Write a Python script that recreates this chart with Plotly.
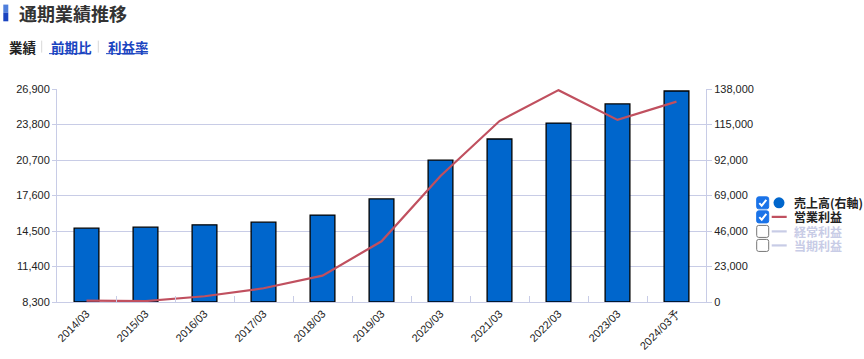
import plotly.graph_objects as go

# ---------------- data ----------------
years = ["2014/03", "2015/03", "2016/03", "2017/03", "2018/03", "2019/03",
         "2020/03", "2021/03", "2022/03", "2023/03", "2024/03予"]
sales = [47800, 48500, 50000, 51700, 56300, 66800, 91900, 105600, 115900, 128300, 136700]
op_profit = [8420, 8380, 8800, 9500, 10600, 13600, 19300, 24100, 26800, 24200, 25800]

left_ticks = [8300, 11400, 14500, 17600, 20700, 23800, 26900]
right_ticks = [0, 23000, 46000, 69000, 92000, 115000, 138000]

legend_labels = ["売上高(右軸)", "営業利益", "経常利益", "当期利益"]
legend_checked = [True, True, False, False]

title_text = "通期業績推移"
tab_labels = ["業績", "前期比", "利益率"]

# ---------------- style ----------------
W, H = 864, 359
L, R, T, B = 57, 706, 89.3, 302
BAR_C = "#0066cc"
LINE_C = "#c0505f"
GRID_C = "#c8cce6"
TXT_C = "#222222"
LINK_C = "#1a44c0"
OFF_C = "#c8cce6"
CJK = "Noto Sans CJK JP"
NUM = "Liberation Sans, Arial, sans-serif"


def px(x):
    return (x - L) / (R - L)


def py(y):
    return (B - y) / (B - T)


fig = go.Figure()
fig.add_trace(go.Bar(
    x=years, y=sales, yaxis="y", width=0.42,
    marker=dict(color=BAR_C, line=dict(color="#000000", width=1.3)),
    showlegend=False, hoverinfo="x+y"))
fig.add_trace(go.Scatter(
    x=years, y=op_profit, yaxis="y2", mode="lines",
    line=dict(color=LINE_C, width=2.2), showlegend=False))

shapes = []
annotations = []

# title accent bar
shapes.append(dict(type="rect", xref="paper", yref="paper",
                   x0=px(3.3), x1=px(8.3), y0=py(13), y1=py(5),
                   fillcolor="#4f7fdc", line=dict(width=0)))
shapes.append(dict(type="rect", xref="paper", yref="paper",
                   x0=px(3.3), x1=px(8.3), y0=py(21.7), y1=py(13),
                   fillcolor="#1a44c0", line=dict(width=0)))
annotations.append(dict(text="<b>" + title_text + "</b>", xref="paper", yref="paper",
                        x=px(17), y=py(13.5), xanchor="left", yanchor="middle",
                        showarrow=False, font=dict(family=CJK, size=18, color="#333333")))

# tabs
tab_x = [6.5, 49, 106]
for i, (lab, tx) in enumerate(zip(tab_labels, tab_x)):
    color = TXT_C if i == 0 else LINK_C
    annotations.append(dict(text="<b>" + lab + "</b>", xref="paper", yref="paper",
                            x=px(tx), y=py(47), xanchor="left", yanchor="middle",
                            showarrow=False, font=dict(family=CJK, size=13.5, color=color)))
    if i > 0:
        shapes.append(dict(type="line", xref="paper", yref="paper",
                           x0=px(tx), x1=px(tx + 14 * len(lab)), y0=py(54), y1=py(54),
                           line=dict(color=LINK_C, width=1)))
for sx in [41.7, 98.3]:
    shapes.append(dict(type="line", xref="paper", yref="paper",
                       x0=px(sx), x1=px(sx), y0=py(41), y1=py(53),
                       line=dict(color="#d8d8d8", width=1)))

# custom legend with checkboxes
row_y = [203, 217, 231.5, 245.5]
cb_x0, cb_x1 = 756.7, 768.7


def rounded_rect(x0, y0, x1, y1, r):
    rx = r / (R - L)
    ry = r / (B - T)
    X0, X1 = px(x0), px(x1)
    Y0, Y1 = py(y1), py(y0)  # bottom, top in paper
    return (f"M {X0+rx},{Y0} L {X1-rx},{Y0} Q {X1},{Y0} {X1},{Y0+ry} "
            f"L {X1},{Y1-ry} Q {X1},{Y1} {X1-rx},{Y1} L {X0+rx},{Y1} "
            f"Q {X0},{Y1} {X0},{Y1-ry} L {X0},{Y0+ry} Q {X0},{Y0} {X0+rx},{Y0} Z")


for i, (lab, chk, ry) in enumerate(zip(legend_labels, legend_checked, row_y)):
    y0, y1 = ry - 6, ry + 6
    if chk:
        shapes.append(dict(type="path", xref="paper", yref="paper",
                           path=rounded_rect(cb_x0, y0, cb_x1, y1, 2),
                           fillcolor="#1a73e8", line=dict(color="#1a73e8", width=1)))
        shapes.append(dict(type="path", xref="paper", yref="paper",
                           path=(f"M {px(cb_x0+2.6)},{py(ry+0.3)} L {px(cb_x0+5)},{py(ry+2.8)} "
                                 f"L {px(cb_x0+9.6)},{py(ry-3)}"),
                           line=dict(color="#ffffff", width=2)))
    else:
        shapes.append(dict(type="path", xref="paper", yref="paper",
                           path=rounded_rect(cb_x0, y0, cb_x1, y1, 2),
                           fillcolor="#ffffff", line=dict(color="#777777", width=1)))
    if i == 0:
        shapes.append(dict(type="circle", xref="paper", yref="paper",
                           x0=px(779 - 5.5), x1=px(779 + 5.5), y0=py(ry + 5.5), y1=py(ry - 5.5),
                           fillcolor=BAR_C, line=dict(width=0)))
    else:
        shapes.append(dict(type="line", xref="paper", yref="paper",
                           x0=px(771.7), x1=px(786.7), y0=py(ry), y1=py(ry),
                           line=dict(color=LINE_C if chk else OFF_C, width=2.2)))
    annotations.append(dict(text="<b>" + lab + "</b>", xref="paper", yref="paper",
                            x=px(792), y=py(ry), xanchor="left", yanchor="middle",
                            showarrow=False,
                            font=dict(family=CJK, size=12, color=TXT_C if chk else OFF_C)))

fig.update_layout(
    template="none",
    width=W, height=H, autosize=False,
    margin=dict(l=L, r=W - R, t=T, b=H - B, pad=0),
    paper_bgcolor="white", plot_bgcolor="white",
    font=dict(family=NUM, size=11, color=TXT_C),
    bargap=0.58,
    xaxis=dict(type="category", range=[-0.5, len(years) - 0.5], automargin=False,
               showgrid=False, showline=True, linecolor=GRID_C, linewidth=1,
               ticks="inside", tickson="boundaries", ticklen=6, tickcolor=GRID_C,
               tickangle=-45, tickfont=dict(family=NUM, size=11, color=TXT_C),
               fixedrange=True),
    yaxis=dict(side="right", range=[0, 138000], tickvals=right_ticks, tickformat=",d",
               automargin=False,
               showgrid=True, gridcolor=GRID_C, gridwidth=1, zeroline=False,
               showline=True, linecolor=GRID_C, ticks="outside", ticklen=5, tickcolor=GRID_C,
               tickfont=dict(family=NUM, size=11, color=TXT_C)),
    yaxis2=dict(side="left", overlaying="y", range=[8300, 26900], tickvals=left_ticks,
                automargin=False,
                tickformat=",d", showgrid=False, zeroline=False,
                showline=True, linecolor=GRID_C, ticks="outside", ticklen=4, tickcolor=GRID_C,
                tickfont=dict(family=NUM, size=11, color=TXT_C)),
    shapes=shapes, annotations=annotations,
)

fig.write_html("out.html", config={"displayModeBar": False},
               post_script="document.body.style.margin='0';document.body.style.overflow='hidden';")
